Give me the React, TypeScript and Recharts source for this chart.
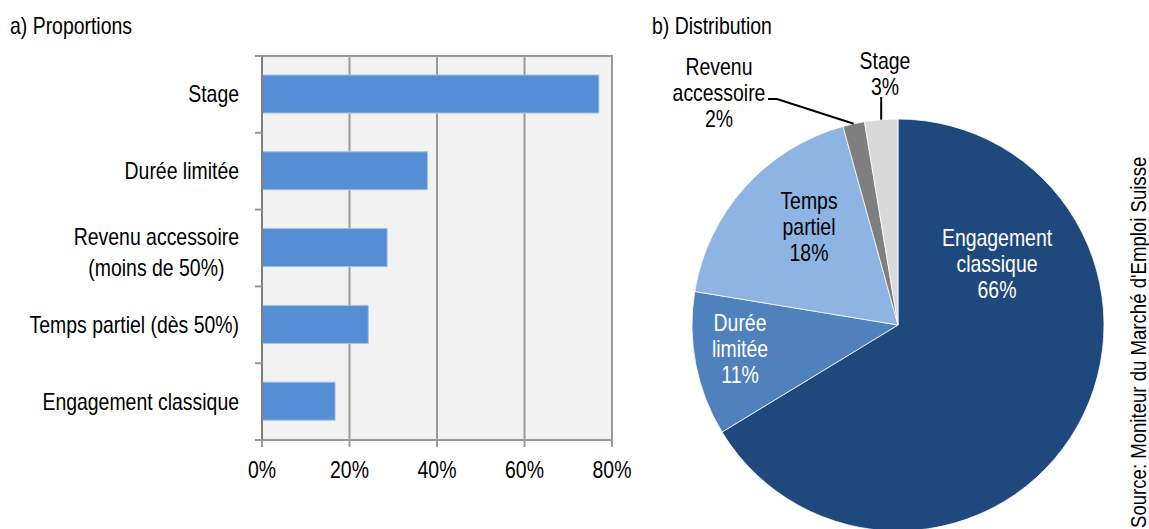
import React from "react";
import { BarChart, Bar, XAxis, YAxis, CartesianGrid, ReferenceArea, PieChart, Pie, Cell } from "recharts";

// ---------- data ----------
const categories = [
  "Stage",
  "Durée limitée",
  "Revenu accessoire\n(moins de 50%)",
  "Temps partiel (dès 50%)",
  "Engagement classique",
];
const proportions = [77, 37.8, 28.6, 24.3, 16.7];
const xTicks = [0, 20, 40, 60, 80];

const pieNames = ["Engagement\nclassique", "Durée\nlimitée", "Temps\npartiel", "Revenu\naccessoire", "Stage"];
const pieValues = [66.3, 11.3, 18.1, 1.7, 2.6];

const titleA = "a) Proportions";
const titleB = "b) Distribution";
const sourceText = "Source: Moniteur du Marché d'Emploi Suisse";

// ---------- styles / layout ----------
const FONT = '"Liberation Sans", Arial, sans-serif';
const FS = 23;
const SX = 0.845; // narrow-font emulation
const W = 1149;
const H = 529;
const BAR_W = 640;
const PLOT_TOP = 56;
const X_AXIS_H = 89;
const Y_AXIS_W = 262;
const PLOT_H = H - PLOT_TOP - X_AXIS_H;
const TICK = 7;
const TICK_MARGIN = 16;
const GRID = "#9a9a9a";
const pieColors = ["#1f497d", "#4f81bd", "#8eb4e3", "#7f7f7f", "#d9d9d9"];
const pieTextColors = ["#ffffff", "#ffffff", "#000000", "#000000", "#000000"];
const pieLabelLayout: { dx: number; dy: number; leader?: { dx?: number; dy: number }[] }[] = [
  { dx: 99, dy: -61 },
  { dx: -158, dy: 24 },
  { dx: -89, dy: -98 },
  { dx: -179, dy: -232, leader: [{ dx: -121, dy: -226 }, { dx: -130, dy: -226 }] },
  { dx: -13, dy: -251, leader: [{ dy: -228 }] },
];

const barData = categories.map((c, i) => ({ name: c, value: proportions[i] }));
const pieData = pieNames.map((n, i) => ({ name: n, value: pieValues[i] }));

let measureCtx: CanvasRenderingContext2D | null = null;
function measure(text: string): number {
  if (!measureCtx) {
    const c = document.createElement("canvas");
    measureCtx = c.getContext("2d");
  }
  if (!measureCtx) return text.length * FS * 0.45 * SX;
  measureCtx.font = `${FS}px ${FONT}`;
  return measureCtx.measureText(text).width * SX;
}

const NText = (p: {
  x: number;
  y: number;
  anchor?: "start" | "middle" | "end";
  dy?: string;
  fill?: string;
  size?: number;
  rotate?: number;
  children: React.ReactNode;
}) => (
  <g transform={`translate(${p.x},${p.y})${p.rotate ? ` rotate(${p.rotate})` : ""} scale(${SX},1)`}>
    <text
      x={0}
      y={0}
      dy={p.dy}
      textAnchor={p.anchor || "start"}
      fill={p.fill || "#000"}
      fontSize={p.size || FS}
      fontFamily={FONT}
    >
      {p.children}
    </text>
  </g>
);

const YTick = (props: any) => {
  const { x, y, payload, index } = props;
  const axisX = x + TICK + TICK_MARGIN;
  const band = PLOT_H / categories.length;
  const lines = String(payload.value).split("\n");
  const lh = 31;
  const maxW = Math.max(...lines.map(measure));
  const centerX = x - maxW / 2;
  const startY = y - ((lines.length - 1) * lh) / 2 + (lines.length > 1 ? 4 : 0);
  return (
    <g>
      <line x1={axisX - TICK} x2={axisX} y1={y - band / 2} y2={y - band / 2} stroke={GRID} strokeWidth={2} />
      {index === categories.length - 1 && (
        <line x1={axisX - TICK} x2={axisX} y1={y + band / 2} y2={y + band / 2} stroke={GRID} strokeWidth={2} />
      )}
      {lines.map((l, i) => (
        <NText
          key={i}
          x={lines.length > 1 ? centerX : x}
          y={startY + i * lh}
          dy="0.35em"
          anchor={lines.length > 1 ? "middle" : "end"}
        >
          {l}
        </NText>
      ))}
    </g>
  );
};

const XTick = (props: any) => {
  const { x, y, payload } = props;
  return (
    <NText x={x} y={y - 1} dy="0.71em" anchor="middle">
      {`${payload.value}%`}
    </NText>
  );
};

const renderPieLabel = (props: any) => {
  const { cx, cy, midAngle, outerRadius, index } = props;
  const lay = pieLabelLayout[index];
  const lines = [...pieNames[index].split("\n"), `${Math.round(pieValues[index])}%`];
  const lh = 26;
  const tx = cx + lay.dx;
  const ty = cy + lay.dy;
  const startY = ty - ((lines.length - 1) * lh) / 2;
  const RAD = Math.PI / 180;
  const ex = cx + outerRadius * Math.cos(-midAngle * RAD);
  const ey = cy + outerRadius * Math.sin(-midAngle * RAD);
  let leader: string | null = null;
  if (lay.leader) {
    const pts = [[ex, ey], ...lay.leader.map((p) => [p.dx === undefined ? ex : cx + p.dx, cy + p.dy])];
    leader = pts.map((p) => p.join(",")).join(" ");
  }
  return (
    <g>
      {leader && <polyline points={leader} fill="none" stroke="#000" strokeWidth={2} />}
      {lines.map((l, i) => (
        <NText key={i} x={tx} y={startY + i * lh} dy="0.35em" anchor="middle" fill={pieTextColors[index]}>
          {l}
        </NText>
      ))}
    </g>
  );
};

export default function App() {
  return (
    <div style={{ position: "absolute", left: 0, top: 0, width: W, height: H, background: "#fff", overflow: "hidden" }}>
      <div style={{ position: "absolute", left: 0, top: 0 }}>
        <BarChart
          width={BAR_W}
          height={H}
          data={barData}
          layout="vertical"
          margin={{ top: PLOT_TOP, right: BAR_W - 612, left: 0, bottom: 0 }}
        >
          <CartesianGrid horizontal={false} vertical={true} fill="#f2f2f2" stroke={GRID} strokeWidth={2} />
          <ReferenceArea x1={0} x2={80} fill="none" stroke={GRID} strokeWidth={2} ifOverflow="visible" />
          <XAxis
            type="number"
            domain={[0, 80]}
            ticks={xTicks}
            height={X_AXIS_H}
            axisLine={{ stroke: GRID, strokeWidth: 2 }}
            tickLine={{ stroke: GRID, strokeWidth: 2 }}
            tickSize={TICK}
            tickMargin={TICK_MARGIN}
            tick={<XTick />}
            interval={0}
          />
          <YAxis
            type="category"
            dataKey="name"
            width={Y_AXIS_W}
            axisLine={{ stroke: "#7f7f7f", strokeWidth: 2 }}
            tickLine={false}
            tickSize={TICK}
            tickMargin={TICK_MARGIN}
            tick={<YTick />}
            interval={0}
          />
          <Bar dataKey="value" fill="#558ed5" stroke="#a4c1ea" strokeWidth={1} barSize={38} isAnimationActive={false} />
        </BarChart>
      </div>
      <div style={{ position: "absolute", left: BAR_W, top: 0 }}>
        <PieChart width={W - BAR_W} height={H} margin={{ top: 0, right: 0, bottom: 0, left: 0 }}>
          <Pie
            data={pieData}
            dataKey="value"
            nameKey="name"
            cx={258}
            cy={325}
            outerRadius={206}
            startAngle={90}
            endAngle={-270}
            stroke="#ffffff"
            strokeWidth={0.75}
            label={renderPieLabel}
            labelLine={false}
            isAnimationActive={false}
          >
            {pieData.map((d, i) => (
              <Cell key={d.name} fill={pieColors[i]} />
            ))}
          </Pie>
        </PieChart>
      </div>
      <svg width={W} height={H} style={{ position: "absolute", left: 0, top: 0, pointerEvents: "none" }}>
        <NText x={10} y={34}>{titleA}</NText>
        <NText x={652} y={34}>{titleB}</NText>
        <NText x={1146} y={528} rotate={-90} size={22}>
          {sourceText}
        </NText>
      </svg>
    </div>
  );
}
